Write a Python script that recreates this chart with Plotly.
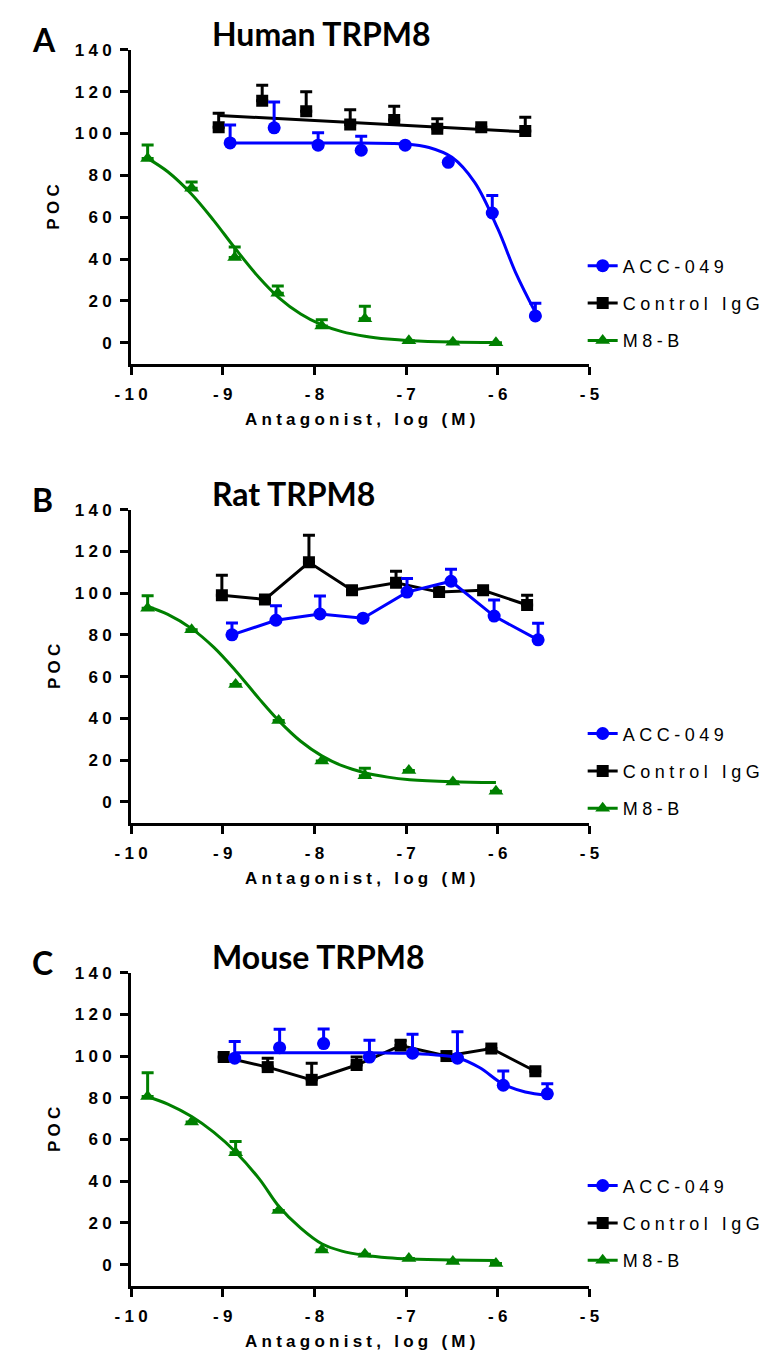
import plotly.graph_objects as go
from plotly.subplots import make_subplots

# log(M) concentrations and POC values

# Human TRPM8 (A)
hum_acc_x = [-8.92, -8.44, -7.96, -7.49, -7.01, -6.54, -6.06, -5.59]
hum_acc_y = [95.5, 102.7, 94.4, 92.0, 94.4, 86.2, 62.0, 12.8]
hum_acc_err = [8.5, 12.3, 6.0, 6.7, None, None, 8.4, 6.1]
hum_igg_x = [-9.045, -8.57, -8.09, -7.61, -7.13, -6.66, -6.18, -5.70]
hum_igg_y = [103.0, 115.7, 110.6, 104.3, 106.5, 102.3, 103.0, 101.2]
hum_igg_err = [6.7, 7.3, 9.4, 7.0, 6.5, 4.7, None, 6.6]
hum_m8b_x = [-9.82, -9.34, -8.87, -8.40, -7.92, -7.45, -6.97, -6.49, -6.02]
hum_m8b_y = [88.0, 73.8, 40.7, 23.6, 8.0, 11.5, 1.0, 0.3, 0.0]
hum_m8b_err = [6.5, 3.0, 5.0, 3.5, 3.0, 6.0, None, None, None]
# fitted curves
hum_acc_fit_x = [-8.92, -7.5, -7.0, -6.75, -6.5, -6.25, -6.0, -5.8, -5.59]
hum_acc_fit_y = [95.5, 95.4, 95.0, 93.3, 88.6, 76.5, 54.5, 33.0, 14.5]
hum_igg_fit_x = [-9.045, -5.70]
hum_igg_fit_y = [108.6, 100.8]
fit_x = [-9.82, -9.6, -9.34, -9.1, -8.86, -8.6, -8.39, -8.15, -7.92, -7.7, -7.45, -7.2, -6.96, -6.5, -6.02]
hum_m8b_fit_y = [88.1, 81.7, 71.0, 58.5, 44.8, 30.9, 21.6, 13.7, 8.5, 5.3, 3.1, 1.75, 1.0, 0.35, 0.12]

# Rat TRPM8 (B)
rat_acc_x = [-8.90, -8.42, -7.94, -7.47, -6.99, -6.51, -6.04, -5.56]
rat_acc_y = [80.0, 87.0, 90.0, 88.0, 100.5, 105.7, 89.0, 77.6]
rat_acc_err = [5.7, 7.0, 8.6, None, 6.5, 5.7, 7.7, 8.0]
rat_igg_x = [-9.01, -8.54, -8.06, -7.59, -7.11, -6.64, -6.16, -5.68]
rat_igg_y = [99.0, 97.0, 114.8, 101.4, 105.0, 100.5, 101.4, 94.3]
rat_igg_err = [9.6, None, 13.0, None, 5.5, None, None, 4.7]
rat_m8b_x = [-9.82, -9.34, -8.86, -8.39, -7.92, -7.45, -6.97, -6.49, -6.02]
rat_m8b_y = [92.8, 82.4, 56.2, 39.0, 19.5, 12.5, 15.0, 9.5, 5.0]
rat_m8b_err = [6.0, None, None, None, None, 3.5, None, None, None]
rat_m8b_fit_y = [93.6, 89.8, 83.0, 74.1, 62.8, 49.2, 38.9, 29.0, 22.0, 17.3, 13.9, 11.8, 10.6, 9.6, 9.2]

# Mouse TRPM8 (C)
mou_acc_x = [-8.87, -8.38, -7.90, -7.40, -6.93, -6.44, -5.94, -5.46]
mou_acc_y = [99.0, 104.0, 106.0, 99.5, 101.4, 99.0, 86.0, 81.9]
mou_acc_err = [8.0, 8.8, 7.0, 8.1, 9.1, 12.6, 6.8, 4.8]
mou_igg_x = [-8.99, -8.51, -8.03, -7.54, -7.06, -6.56, -6.07, -5.59]
mou_igg_y = [99.5, 94.7, 88.6, 95.7, 105.0, 100.0, 103.6, 92.7]
mou_igg_err = [None, 4.3, 7.9, 3.8, 2.6, None, None, None]
mou_m8b_x = [-9.82, -9.34, -8.86, -8.39, -7.92, -7.45, -6.97, -6.49, -6.02]
mou_m8b_y = [80.6, 68.4, 53.7, 26.0, 7.0, 5.0, 3.0, 1.5, 0.5]
mou_m8b_err = [11.4, None, 5.3, None, None, None, None, None, None]
mou_acc_fit_x = [-8.87, -7.5, -7.0, -6.7, -6.44, -6.2, -5.94, -5.7, -5.46]
mou_acc_fit_y = [101.6, 101.6, 101.3, 100.6, 99.2, 94.5, 86.5, 82.8, 81.3]
mou_m8b_fit_y = [80.5, 77.0, 71.0, 63.5, 54.0, 41.0, 28.0, 17.5, 10.0, 6.5, 4.5, 3.3, 2.7, 2.2, 2.0]

panel_letters = ["A", "B", "C"]
panel_titles = ["Human TRPM8", "Rat TRPM8", "Mouse TRPM8"]
series_names = ["ACC-049", "Control IgG", "M8-B"]
x_ticks = [-10, -9, -8, -7, -6, -5]
y_ticks = [0, 20, 40, 60, 80, 100, 120, 140]

W, H = 768, 1354
BLUE = "#0000ff"
GREEN = "#008000"
BLACK = "#000000"
SP = "\u2005"


def spaced(s):
    # the figure uses wide letter spacing everywhere
    return SP.join(s)


def px_x(p):
    return p / W


def px_y(p):
    return 1 - p / H


def errs(e):
    return dict(type="data", array=e, arrayminus=[0] * len(e), symmetric=False,
                thickness=3, width=6, visible=True)


# pixel geometry of each panel: (top of axis at 140, bottom at -10)
panels = [(33, 349), (496, 811), (962, 1277)]

fig = make_subplots(rows=3, cols=1)

data = [
    dict(acc=(hum_acc_x, hum_acc_y, hum_acc_err), igg=(hum_igg_x, hum_igg_y, hum_igg_err),
         m8b=(hum_m8b_x, hum_m8b_y, hum_m8b_err),
         acc_fit=(hum_acc_fit_x, hum_acc_fit_y), igg_fit=(hum_igg_fit_x, hum_igg_fit_y),
         m8b_fit=(fit_x, hum_m8b_fit_y)),
    dict(acc=(rat_acc_x, rat_acc_y, rat_acc_err), igg=(rat_igg_x, rat_igg_y, rat_igg_err),
         m8b=(rat_m8b_x, rat_m8b_y, rat_m8b_err),
         acc_fit=None, igg_fit=None, m8b_fit=(fit_x, rat_m8b_fit_y)),
    dict(acc=(mou_acc_x, mou_acc_y, mou_acc_err), igg=(mou_igg_x, mou_igg_y, mou_igg_err),
         m8b=(mou_m8b_x, mou_m8b_y, mou_m8b_err),
         acc_fit=(mou_acc_fit_x, mou_acc_fit_y), igg_fit=None,
         m8b_fit=(fit_x, mou_m8b_fit_y)),
]

styles = {
    "acc": (BLUE, "circle", 13),
    "igg": (BLACK, "square", 12),
    "m8b": (GREEN, "triangle-up", 13),
}
legend_rows = [249, 720, 1175]

for i, d in enumerate(data):
    row = i + 1
    leg = "legend" if i == 0 else f"legend{i + 1}"
    for key in ["igg", "acc", "m8b"]:
        col, sym, size = styles[key]
        x, y, e = d[key]
        fit = d[key + "_fit"]
        if fit is not None:
            fig.add_trace(go.Scatter(x=fit[0], y=fit[1], mode="lines", line_shape="spline",
                                     line=dict(color=col, width=3), showlegend=False,
                                     hoverinfo="skip"), row=row, col=1)
            mode = "markers"
        else:
            mode = "lines+markers"
        fig.add_trace(go.Scatter(x=x, y=y, mode=mode,
                                 marker=dict(symbol=sym, size=size, color=col),
                                 line=dict(color=col, width=3),
                                 error_y=dict(errs(e), color=col),
                                 showlegend=False), row=row, col=1)
    # legend entries
    for key, name in zip(["acc", "igg", "m8b"], series_names):
        col, sym, size = styles[key]
        fig.add_trace(go.Scatter(x=[None], y=[None], mode="lines+markers", name=spaced(name),
                                 marker=dict(symbol=sym, size=size, color=col),
                                 line=dict(color=col, width=3), legend=leg,
                                 legendgroup=f"{leg}-{key}"), row=row, col=1)

    top, bot = panels[i]
    axis_font = dict(family="Liberation Sans, Arial", size=17, color="black", weight="bold")
    fig.update_xaxes(range=[-10, -5], domain=[px_x(110), px_x(585)],
                     tickvals=x_ticks, ticktext=[spaced(str(t)) for t in x_ticks],
                     showline=True, linewidth=3, linecolor="black", ticks="outside",
                     ticklen=8, tickwidth=3, tickcolor="black", showgrid=False,
                     zeroline=False, tickfont=axis_font, ticklabelstandoff=5,
                     row=row, col=1)
    fig.update_yaxes(range=[-10, 140], domain=[px_y(bot), px_y(top)],
                     tickvals=y_ticks, ticktext=[spaced(str(t)) for t in y_ticks],
                     showline=True, linewidth=3, linecolor="black", ticks="outside",
                     ticklen=8, tickwidth=3, tickcolor="black", showgrid=False,
                     zeroline=False, tickfont=axis_font, ticklabelstandoff=5,
                     row=row, col=1)

    fig.update_layout({leg: dict(x=px_x(578), y=px_y(legend_rows[i] - 17), xanchor="left",
                                 yanchor="top", bgcolor="rgba(0,0,0,0)", tracegroupgap=11,
                                 font=dict(family="Liberation Sans, Arial", size=18,
                                           color="black"))})

    # panel letter, title, axis titles
    fig.add_annotation(x=px_x(5), y=px_y(top - 10), text=panel_letters[i], showarrow=False,
                       xref="paper", yref="paper", xanchor="left", yanchor="middle",
                       font=dict(family="Lato", size=32, color="black", weight="bold"))
    fig.add_annotation(x=px_x(192), y=px_y(top - 16), text=panel_titles[i], showarrow=False,
                       xref="paper", yref="paper", xanchor="left", yanchor="middle",
                       font=dict(family="Lato", size=32, color="black", weight="bold"))
    fig.add_annotation(x=px_x(347.5), y=px_y(bot + 56), text=spaced("Antagonist, log (M)"),
                       showarrow=False, xref="paper", yref="paper", xanchor="center",
                       yanchor="middle", font=axis_font)
    fig.add_annotation(x=px_x(30), y=px_y((top + bot) / 2), text=spaced("POC"), textangle=-90,
                       showarrow=False, xref="paper", yref="paper", xanchor="center",
                       yanchor="middle", font=axis_font)

fig.update_layout(width=W, height=H, margin=dict(l=0, r=0, t=0, b=0),
                  plot_bgcolor="white", paper_bgcolor="white")

fig.write_html("out.html", config={"displayModeBar": False})
